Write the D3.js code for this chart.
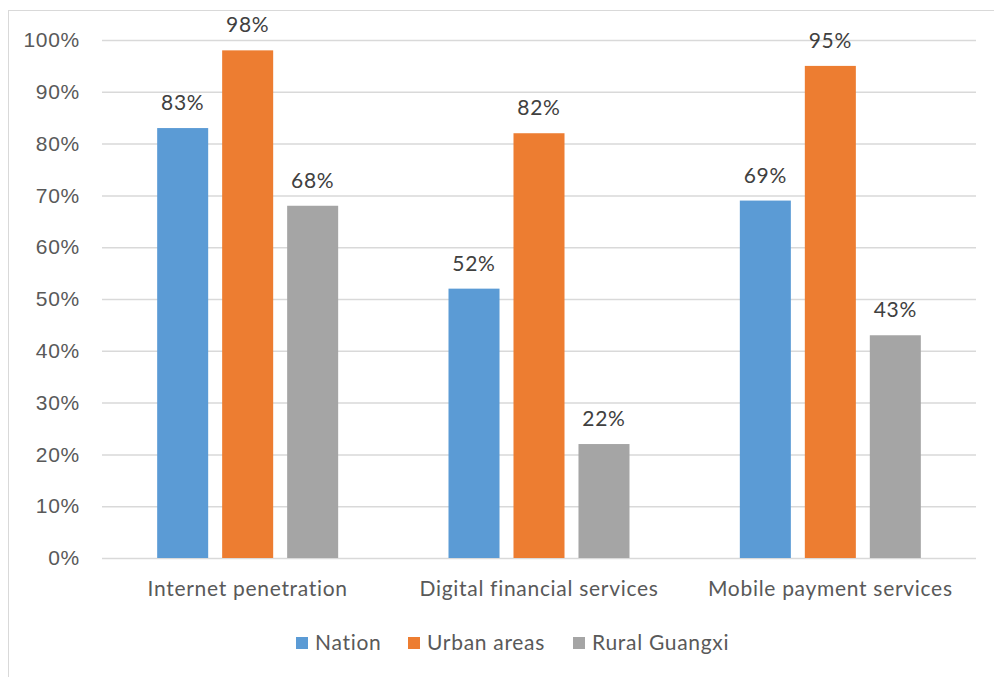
<!DOCTYPE html>
<html>
<head>
<meta charset="utf-8">
<script src="https://cdn.jsdelivr.net/npm/d3@7"></script>
<style>
  body { margin: 0; background: #fff; }
  svg { display: block; font-family: Lato, "Open Sans", sans-serif; }
  svg text { letter-spacing: 0.7px; }
</style>
</head>
<body>
<div class="chart"></div>
<script>
// data
var categories = ["Internet penetration", "Digital financial services", "Mobile payment services"];
var seriesNames = ["Nation", "Urban areas", "Rural Guangxi"];
var nationValues = [0.83, 0.52, 0.69];
var urbanValues = [0.98, 0.82, 0.95];
var ruralValues = [0.68, 0.22, 0.43];
var yTicks = [0, 0.1, 0.2, 0.3, 0.4, 0.5, 0.6, 0.7, 0.8, 0.9, 1];
var colors = ["#5B9BD5", "#ED7D31", "#A5A5A5"];

var chart = {
    width: 994,
    height: 677,
    left: 102,
    right: 976,
    top: 40,
    bottom: 558,
    fontSize: "21px",
    init() {
        this.svg = d3.select(".chart")
            .append("svg")
            .attr("width", this.width)
            .attr("height", this.height);

        //Outer border of the chart area
        this.svg.append("rect")
            .attr("x", 8.5)
            .attr("y", 10.5)
            .attr("width", this.width + 10)
            .attr("height", this.height + 10)
            .attr("fill", "none")
            .attr("stroke", "#d9d9d9");

        this.y = d3.scaleLinear().domain([0, 1]).range([this.bottom, this.top]);
        this.x0 = d3.scaleBand().domain(categories).range([this.left, this.right]);
        const groupWidth = 195;
        const bw = this.x0.bandwidth();
        this.x1 = d3.scaleBand().domain(seriesNames)
            .range([(bw - groupWidth) / 2, (bw + groupWidth) / 2])
            .paddingInner(0.215)
            .paddingOuter(0.1077);

        this.drawGrid();
        this.drawBars();
        this.drawLegend();
    },
    drawGrid() {
        const y = this.y;
        const grid = this.svg.append("g")
            .attr("transform", `translate(${this.left},0)`)
            .call(d3.axisLeft(y).tickValues(yTicks)
                .tickSize(-(this.right - this.left))
                .tickFormat(d3.format(".0%")));
        grid.select(".domain").remove();
        grid.selectAll(".tick line")
            .attr("stroke", "#d9d9d9")
            .attr("stroke-width", 1.5);
        grid.selectAll(".tick text")
            .attr("x", -22)
            .attr("fill", "#595959")
            .style("font-size", this.fontSize);

        //Category labels
        this.svg.append("g")
            .selectAll("text")
            .data(categories)
            .join("text")
            .attr("x", d => this.x0(d) + this.x0.bandwidth() / 2)
            .attr("y", this.bottom + 38)
            .attr("text-anchor", "middle")
            .attr("fill", "#595959")
            .style("font-size", this.fontSize)
            .text(d => d);
    },
    drawBars() {
        const allValues = [nationValues, urbanValues, ruralValues];
        const rows = [];
        categories.forEach((c, i) => {
            seriesNames.forEach((s, j) => {
                rows.push({ cat: c, series: s, value: allValues[j][i], color: colors[j] });
            });
        });

        const g = this.svg.append("g");
        g.selectAll("rect")
            .data(rows)
            .join("rect")
            .attr("x", d => this.x0(d.cat) + this.x1(d.series))
            .attr("y", d => this.y(d.value))
            .attr("width", this.x1.bandwidth())
            .attr("height", d => this.y(0) - this.y(d.value))
            .attr("fill", d => d.color);

        //Data labels
        g.selectAll("text")
            .data(rows)
            .join("text")
            .attr("x", d => this.x0(d.cat) + this.x1(d.series) + this.x1.bandwidth() / 2)
            .attr("y", d => this.y(d.value) - 18)
            .attr("text-anchor", "middle")
            .attr("fill", "#404040")
            .style("font-size", this.fontSize)
            .text(d => d3.format(".0%")(d.value));
    },
    drawLegend() {
        const itemX = [296, 408, 573];
        const legend = this.svg.append("g")
            .selectAll("g")
            .data(seriesNames)
            .join("g")
            .attr("transform", (d, i) => `translate(${itemX[i]},637)`);
        legend.append("rect")
            .attr("width", 12)
            .attr("height", 12)
            .attr("fill", (d, i) => colors[i]);
        legend.append("text")
            .attr("x", 19)
            .attr("y", 13)
            .attr("fill", "#595959")
            .style("font-size", this.fontSize)
            .text(d => d);
    }
};

chart.init();
</script>
</body>
</html>
